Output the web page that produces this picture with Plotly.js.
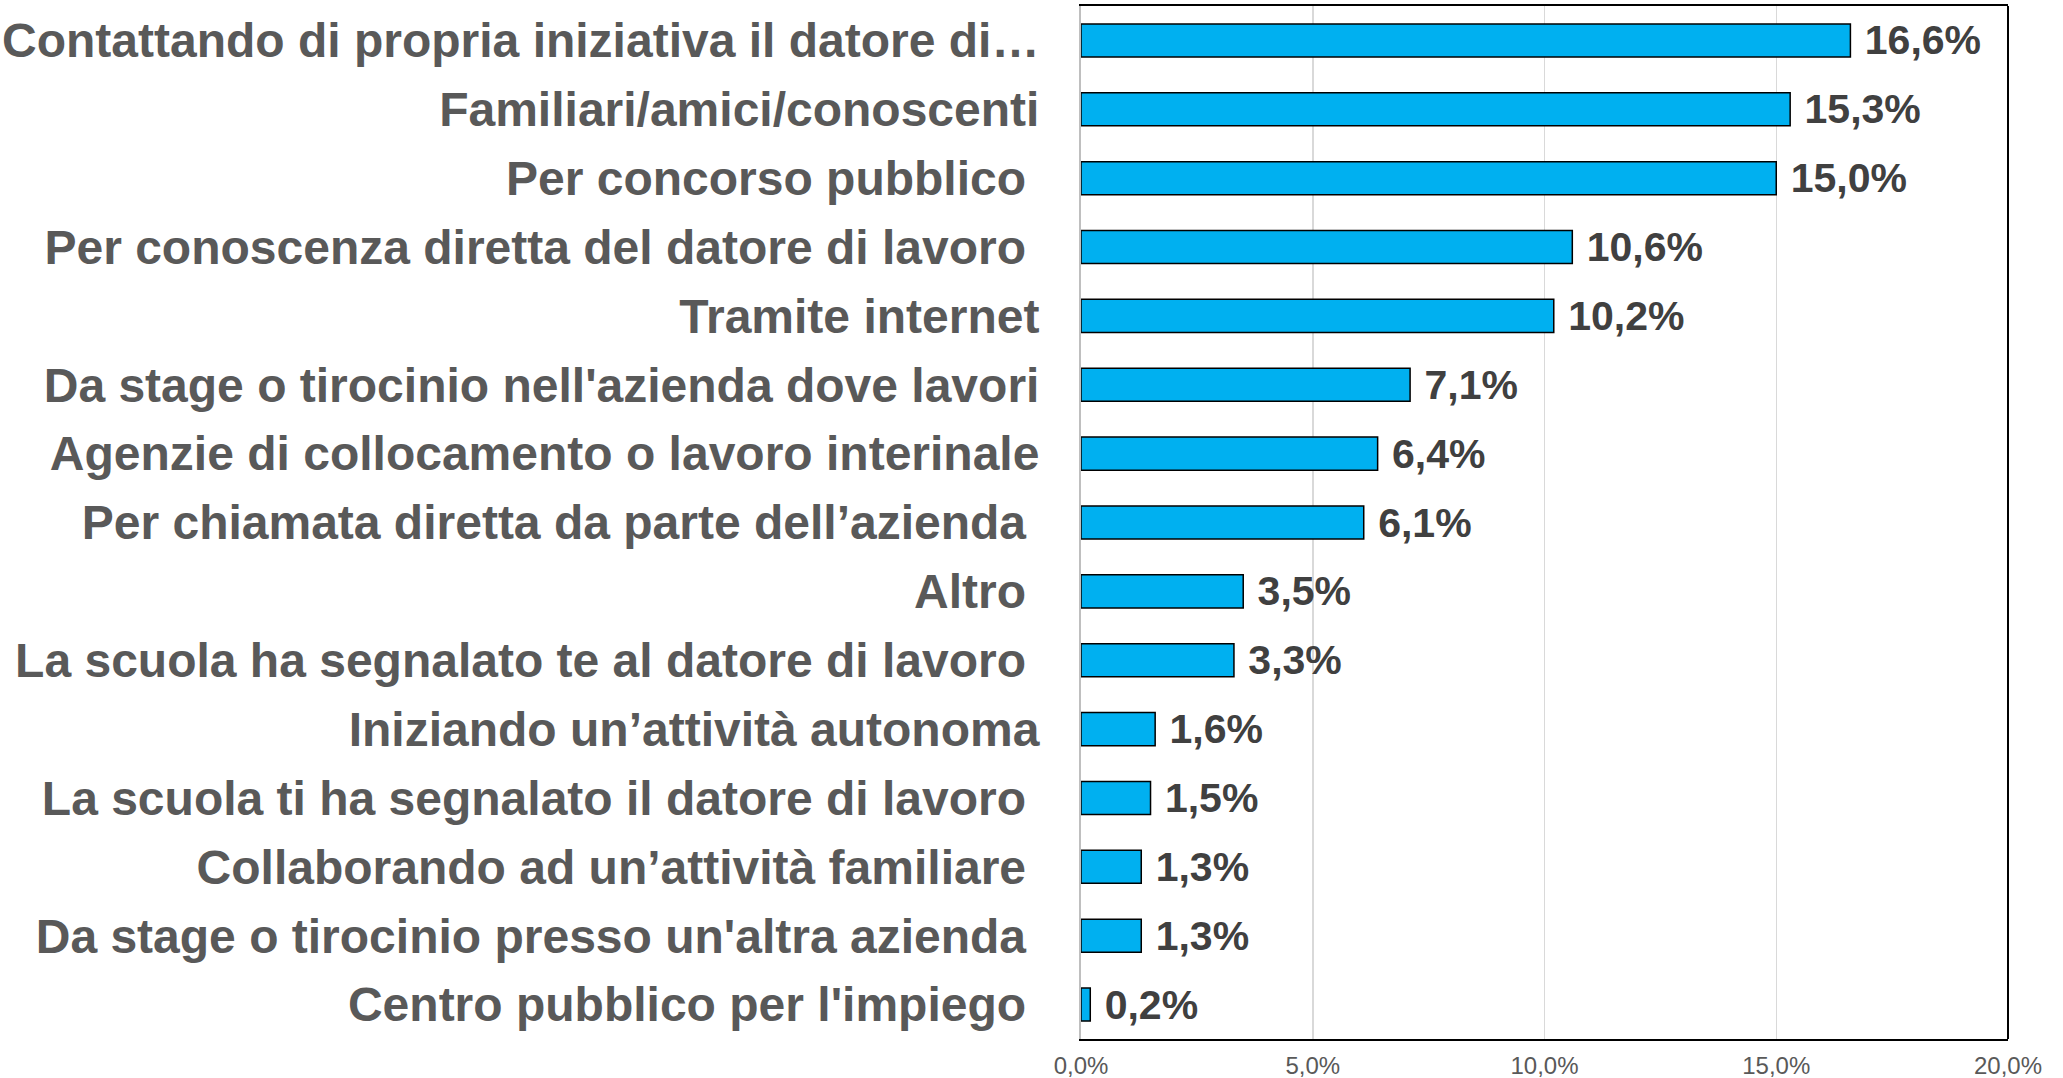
<!DOCTYPE html>
<html>
<head>
<meta charset="utf-8">
<script src="https://cdn.plot.ly/plotly-3.0.1.min.js"></script>
<style>html,body{margin:0;padding:0;background:#fff;}#chart{width:2063px;height:1078px;}</style>
</head>
<body>
<div id="chart"></div>
<script>
const categories = [
  "Contattando di propria iniziativa il datore di…",
  "Familiari/amici/conoscenti",
  "Per concorso pubblico\u00a0",
  "Per conoscenza diretta del datore di lavoro\u00a0",
  "Tramite internet",
  "Da stage o tirocinio nell'azienda dove lavori",
  "Agenzie di collocamento o lavoro interinale",
  "Per chiamata diretta da parte dell’azienda\u00a0",
  "Altro\u00a0",
  "La scuola ha segnalato te al datore di lavoro\u00a0",
  "Iniziando un’attività autonoma",
  "La scuola ti ha segnalato il datore di lavoro\u00a0",
  "Collaborando ad un’attività familiare\u00a0",
  "Da stage o tirocinio presso un'altra azienda\u00a0",
  "Centro pubblico per l'impiego\u00a0"
];
const values = [16.6, 15.3, 15.0, 10.6, 10.2, 7.1, 6.4, 6.1, 3.5, 3.3, 1.6, 1.5, 1.3, 1.3, 0.2];
const tickVals = [0, 5, 10, 15, 20];
const tickLabels = ["0,0%", "5,0%", "10,0%", "15,0%", "20,0%"];

const trace = {
  type: 'bar',
  orientation: 'h',
  y: categories,
  x: values,
  marker: { color: '#00B0F0', line: { color: '#000000', width: 1.5 } },
  texttemplate: '\u00a0%{x:.1f}%',
  textposition: 'outside',
  constraintext: 'none',
  cliponaxis: false,
  textfont: { family: 'Liberation Sans, Arial, sans-serif', size: 41, color: '#404040', weight: 'bold' },
  hoverinfo: 'skip'
};

const layout = {
  width: 2063,
  height: 1078,
  margin: { l: 1081, r: 55, t: 6, b: 39 },
  paper_bgcolor: '#ffffff',
  plot_bgcolor: '#ffffff',
  separators: ',.',
  bargap: 0.52,
  showlegend: false,
  font: { family: 'Liberation Sans, Arial, sans-serif', color: '#595959' },
  xaxis: {
    range: [0, 20],
    tickvals: tickVals,
    ticktext: tickLabels,
    showgrid: true,
    gridcolor: '#d9d9d9',
    gridwidth: 1.5,
    zeroline: false,
    showline: true,
    linecolor: '#000000',
    linewidth: 2,
    mirror: true,
    ticks: '',
    ticklabelstandoff: 4,
    tickfont: { size: 24, color: '#595959' },
    fixedrange: true
  },
  yaxis: {
    type: 'category',
    categoryorder: 'array',
    categoryarray: categories,
    autorange: 'reversed',
    showgrid: false,
    zeroline: false,
    showline: true,
    linecolor: '#bfbfbf',
    linewidth: 2,
    ticks: '',
    ticklabelstandoff: 30,
    tickfont: { size: 48, color: '#595959', weight: 'bold' },
    fixedrange: true
  },
  shapes: [
    { type: 'line', xref: 'paper', yref: 'paper', x0: 1, x1: 1, y0: 0, y1: 1, line: { color: '#000000', width: 2 } }
  ]
};

Plotly.newPlot('chart', [trace], layout, { staticPlot: true, displayModeBar: false });
</script>
</body>
</html>
